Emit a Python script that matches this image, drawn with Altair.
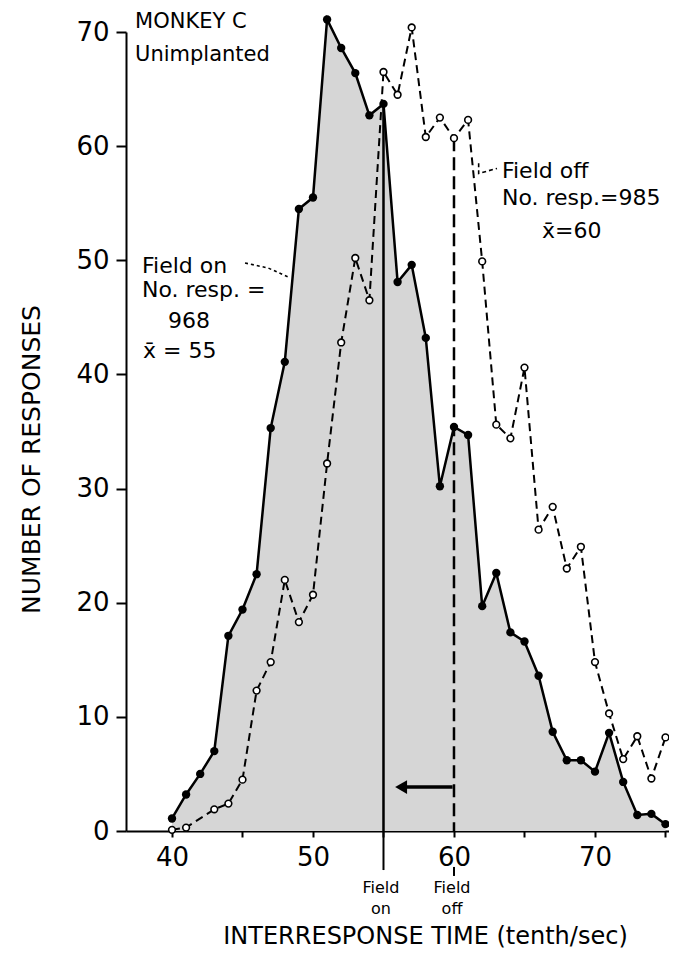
import altair as alt
import pandas as pd

# ---- data ----
x_filled = list(range(40, 76))
y_filled = [1.1, 3.2, 5.0, 7.0, 17.1, 19.4, 22.5, 35.3, 41.1, 54.5, 55.5, 71.1,
            68.6, 66.4, 62.7, 63.7, 48.1, 49.6, 43.2, 30.2, 35.4, 34.7, 19.7, 22.6,
            17.4, 16.6, 13.6, 8.7, 6.2, 6.2, 5.2, 8.6, 4.3, 1.4, 1.5, 0.6]

x_open = [40, 41] + list(range(43, 76))
y_open = [0.1, 0.3, 1.9, 2.4, 4.5, 12.3, 14.8, 22.0, 18.3, 20.7, 32.2, 42.8,
          50.2, 46.5, 66.5, 64.5, 70.4, 60.8, 62.5, 60.7, 62.3, 49.9, 35.6, 34.4,
          40.6, 26.4, 28.4, 23.0, 24.9, 14.8, 10.3, 6.3, 8.3, 4.6, 8.2]

y_ticks = [0, 10, 20, 30, 40, 50, 60, 70]
x_ticks = [40, 45, 50, 55, 60, 65, 70, 75]
field_on_x = 55
field_off_x = 60

FONT = "DejaVu Sans"

filled = pd.DataFrame({"x": x_filled, "y": y_filled})
opened = pd.DataFrame({"x": x_open, "y": y_open})

x_enc = alt.X("x:Q",
              scale=alt.Scale(domain=[36.738, 75.249], nice=False, zero=False),
              axis=alt.Axis(values=x_ticks,
                            labelExpr="datum.value % 10 == 0 ? datum.label : ''",
                            tickSize=6, tickWidth=2, tickColor="black",
                            domainWidth=2, domainColor="black",
                            labelFont=FONT, labelFontSize=26, labelColor="black",
                            labelPadding=7, labelOverlap=False, labelFlush=False,
                            grid=False,
                            title="INTERRESPONSE TIME (tenth/sec)",
                            titleFont=FONT, titleFontSize=24, titleFontWeight="normal",
                            titleColor="black", titleX=299, titleY=105,
                            titleAlign="center", titleBaseline="middle"))
y_enc = alt.Y("y:Q",
              scale=alt.Scale(domain=[0, 70], nice=False, zero=True),
              axis=alt.Axis(values=y_ticks,
                            tickSize=10, tickWidth=2, tickColor="black",
                            domainWidth=2, domainColor="black",
                            labelFont=FONT, labelFontSize=26, labelColor="black",
                            labelPadding=7, grid=False,
                            title="NUMBER OF RESPONSES",
                            titleFont=FONT, titleFontSize=25, titleFontWeight="normal",
                            titleColor="black", titleAngle=-90, titleX=-95, titleY=427,
                            titleAlign="center", titleBaseline="middle"))

area = alt.Chart(filled).mark_area(color="#d6d6d6", opacity=1).encode(x=x_enc, y=y_enc)

# vertical field on / off lines
on_df = pd.DataFrame({"x": [field_on_x], "y": [y_filled[x_filled.index(field_on_x)]], "y0": [0]})
off_df = pd.DataFrame({"x": [field_off_x], "y": [y_open[x_open.index(field_off_x)]], "y0": [0]})
on_line = alt.Chart(on_df).mark_rule(color="black", strokeWidth=2.5).encode(
    x=x_enc, y=y_enc, y2="y0:Q")
off_line = alt.Chart(off_df).mark_rule(color="black", strokeWidth=2.5, strokeDash=[13, 6]).encode(
    x=x_enc, y=y_enc, y2="y0:Q")

# ticks below the axis for field on / off
tick_df = pd.DataFrame({"x": [field_on_x, field_off_x], "y": [0, -3.15], "y2": [-3.42, -3.94]})
ticks_below = alt.Chart(tick_df).mark_rule(color="black", strokeWidth=2).encode(
    x=x_enc, y=y_enc, y2="y2:Q")

open_line = alt.Chart(opened).mark_line(color="black", strokeWidth=2, strokeDash=[8, 5]).encode(
    x=x_enc, y=y_enc)
open_pts = alt.Chart(opened).mark_point(shape="circle", filled=True, fill="white",
                                        stroke="black", strokeWidth=1.6, size=45,
                                        opacity=1).encode(x=x_enc, y=y_enc)
filled_line = alt.Chart(filled).mark_line(color="black", strokeWidth=2.5).encode(
    x=x_enc, y=y_enc)
filled_pts = alt.Chart(filled).mark_point(shape="circle", filled=True, color="black",
                                          size=70, opacity=1).encode(x=x_enc, y=y_enc)

# arrow from field off to field on
arrow_df = pd.DataFrame({"x": [59.9], "x2": [56.6], "y": [3.85]})
arrow_shaft = alt.Chart(arrow_df).mark_rule(color="black", strokeWidth=3.5).encode(
    x=x_enc, x2="x2:Q", y=y_enc)
head_df = pd.DataFrame({"x": [56.25], "y": [3.85]})
arrow_head = alt.Chart(head_df).mark_point(shape="triangle-left", filled=True, color="black",
                                           size=190, opacity=1).encode(x=x_enc, y=y_enc)

# leader lines
lead_on = pd.DataFrame({"x": [45.18, 46.81, 48.23], "y": [49.76, 49.33, 48.54]})
lead_on_line = alt.Chart(lead_on).mark_line(color="black", strokeWidth=1.6, strokeDash=[3, 3]).encode(
    x=x_enc, y=y_enc)
lead_off = pd.DataFrame({"x": [61.75, 61.75, 63.05], "y": [58.5, 57.6, 58.05]})
lead_off_line = alt.Chart(lead_off).mark_line(color="black", strokeWidth=1.6, strokeDash=[4, 3]).encode(
    x=x_enc, y=y_enc)

# annotations
left_txt = pd.DataFrame({
    "x": [37.38, 37.38, 37.87, 37.87, 37.94, 63.40, 63.40, 66.24],
    "y": [70.35, 67.46, 48.89, 46.78, 41.44, 57.21, 54.84, 51.95],
    "label": ["MONKEY C", "Unimplanted", "Field on", "No. resp. =",
              "x\u0304 = 55", "Field off", "No. resp.=985", "x\u0304=60"],
    "fs": [21, 21, 22, 22, 22, 22, 22, 22],
})
center_txt = pd.DataFrame({
    "x": [41.21, 54.82, 54.82, 59.86, 59.86],
    "y": [44.07, -5.45, -7.25, -5.45, -7.25],
    "label": ["968", "Field", "on", "Field", "off"],
    "fs": [22, 16, 16, 16, 16],
})
text_left = alt.Chart(left_txt).mark_text(align="left", baseline="alphabetic", font=FONT,
                                          color="black").encode(
    x=x_enc, y=y_enc, text="label:N", size=alt.Size("fs:Q", scale=None, legend=None))
text_center = alt.Chart(center_txt).mark_text(align="center", baseline="alphabetic", font=FONT,
                                              color="black").encode(
    x=x_enc, y=y_enc, text="label:N", size=alt.Size("fs:Q", scale=None, legend=None))

chart = alt.layer(
    area, on_line, off_line, ticks_below, open_line, open_pts, filled_line, filled_pts,
    arrow_shaft, arrow_head, lead_on_line, lead_off_line, text_left, text_center
).properties(
    width=543, height=799,
    autosize=alt.AutoSizeParams(type="none"),
    padding={"left": 118, "top": 24, "right": 0, "bottom": 119},
    background="white",
).configure_view(strokeWidth=0)

chart.save("out.html", embed_options={"renderer": "svg", "actions": False})
